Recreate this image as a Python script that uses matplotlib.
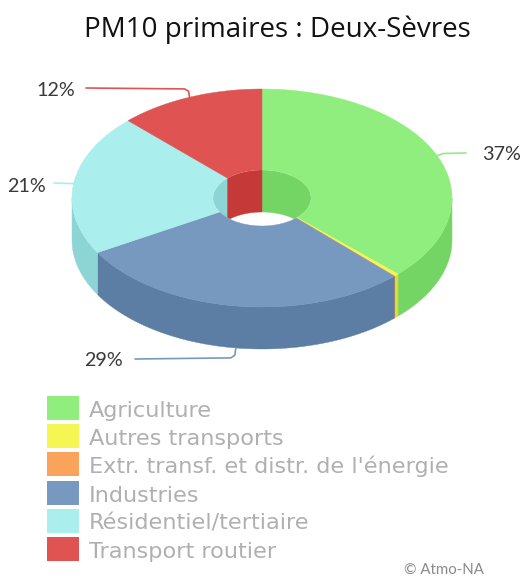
import numpy as np
import matplotlib
matplotlib.use("Agg")
import matplotlib.pyplot as plt
from matplotlib.patches import Ellipse, Polygon, Rectangle

# data
categories = ["Agriculture", "Autres transports", "Extr. transf. et distr. de l'énergie",
              "Industries", "Résidentiel/tertiaire", "Transport routier"]
values = [37.3, 0.4, 0.05, 28.9, 20.9, 12.45]
percent_labels = ["37%", "", "", "29%", "21%", "12%"]
top_colors = ["#90EE7E", "#F5F553", "#F9A35B", "#7798BF", "#AAEEEE", "#DF5353"]
side_colors = ["#74D464", "#DBDB39", "#DF8941", "#5C7DA4", "#8DD4D4", "#C53939"]

# pie geometry, in pixels
cx, cy = 262, 198
rx, ry = 190, 109
inner_rx, inner_ry = 49, 28
depth = 42


def ring(a, rad_x, rad_y, dy=0.0):
    # a is clockwise from the top, in degrees
    a = np.radians(a)
    return np.column_stack([cx + rad_x * np.sin(a), cy - rad_y * np.cos(a) + dy])


def visible_span(a0, a1, lo, hi):
    return max(a0, lo), min(a1, hi)


fig = plt.figure(figsize=(5.23, 5.78), dpi=100)
ax = fig.add_axes([0, 0, 1, 1])
ax.set_xlim(0, 523)
ax.set_ylim(578, 0)
ax.axis("off")

edges = np.concatenate([[0], np.cumsum(values)]) * 360 / np.sum(values)

# inner wall, back part of the hole only, clipped to the hole
hole = Ellipse((cx, cy), 2 * inner_rx, 2 * inner_ry, fc="none", ec="none")
ax.add_patch(hole)
for i in range(len(values)):
    for lo, hi in [(0, 90), (270, 360)]:
        a0, a1 = visible_span(edges[i], edges[i + 1], lo, hi)
        if a1 <= a0:
            continue
        t = np.linspace(a0, a1, 60)
        pts = np.vstack([ring(t, inner_rx, inner_ry), ring(t[::-1], inner_rx, inner_ry, depth)])
        wall = Polygon(pts, fc=side_colors[i], ec=side_colors[i], lw=0.3, zorder=1)
        ax.add_patch(wall)
        wall.set_clip_path(hole)

# outer wall, front half
for i in range(len(values)):
    a0, a1 = visible_span(edges[i], edges[i + 1], 90, 270)
    if a1 <= a0:
        continue
    t = np.linspace(a0, a1, 120)
    pts = np.vstack([ring(t, rx, ry), ring(t[::-1], rx, ry, depth)])
    ax.add_patch(Polygon(pts, fc=side_colors[i], ec=side_colors[i], lw=0.3, zorder=2))

# top faces
for i in range(len(values)):
    t = np.linspace(edges[i], edges[i + 1], 150)
    pts = np.vstack([ring(t, rx, ry), ring(t[::-1], inner_rx, inner_ry)])
    ax.add_patch(Polygon(pts, fc=top_colors[i], ec=top_colors[i], lw=0.3, zorder=3))

# leaders and percent labels
label_pos = {0: (502, 155), 3: (103, 361), 4: (26, 186), 5: (56, 90)}
leader_end = {0: (466, 153), 3: (135, 359), 4: (54, 183), 5: (86, 88)}
label_color = "#3A3A3A"
for i, (lx, ly) in label_pos.items():
    mid = (edges[i] + edges[i + 1]) / 2
    x0, y0 = ring(mid, rx, ry, depth if 150 < mid < 210 else 0)[0]
    ex, ey = leader_end[i]
    # little elbow next to the pie, then a nearly flat run
    if i in (3, 5):
        px = [x0, x0 - 1, x0 - 5, ex]
        py = [y0, ey + (y0 - ey) * 0.35, ey + (y0 - ey) * 0.1, ey]
    elif i == 0:
        px = [x0, x0 + 6, ex]
        py = [y0, ey + 0.5, ey]
    else:
        px = [x0, ex]
        py = [y0, ey]
    ax.plot(px, py, color=top_colors[i], lw=1.2, solid_capstyle="round", zorder=4)
    ax.text(lx, ly, percent_labels[i], family="Lato", fontsize=14.2, color=label_color,
            ha="center", va="center")

# title
ax.text(277, 30, "PM10 primaires : Deux-Sèvres", family="Open Sans", fontsize=20,
        color="#111111", ha="center", va="center")

# legend
for i, name in enumerate(categories):
    y = 396 + i * 28.2
    ax.add_patch(Rectangle((47, y), 32, 24, fc=top_colors[i], ec="none"))
    ax.text(89, y + 21, name, family="DejaVu Sans", fontsize=16.1, color="#B0B0B0",
            ha="left", va="baseline")

ax.text(484, 570, "© Atmo-NA", family="Lato", fontsize=10.8, color="#8A8A8A",
        ha="right", va="center")

fig.savefig("out.png", dpi=100)
